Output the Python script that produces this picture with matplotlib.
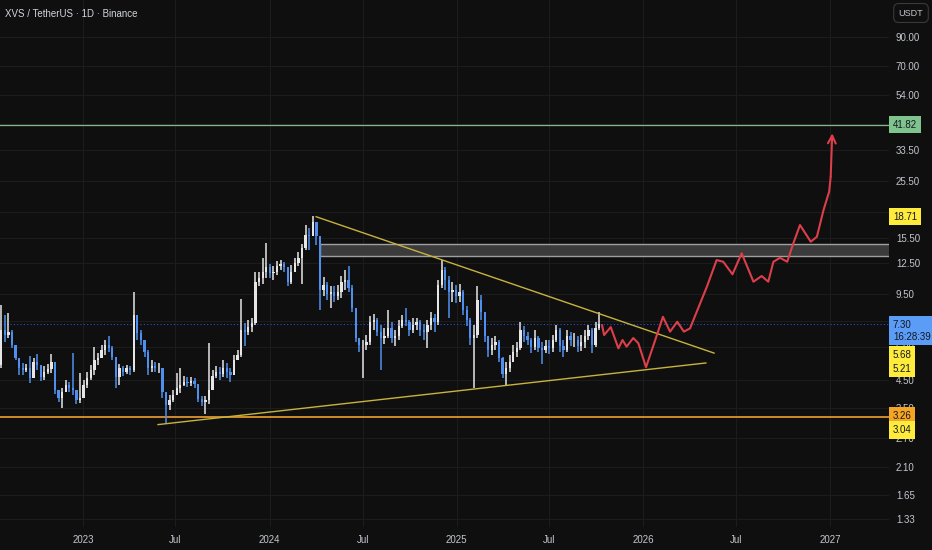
import numpy as np
import pandas as pd
import matplotlib
matplotlib.use("Agg")
import matplotlib.pyplot as plt
import matplotlib.dates as mdates
from matplotlib.patches import Rectangle
from matplotlib.ticker import NullLocator

plt.rcParams["font.family"] = ["Liberation Sans", "DejaVu Sans"]

# weekly candles (USDT), open = previous close
week_start = "2022-07-22"
first_open = 5.12
closes = [
    6.95, 6.65, 6.83, 6.10, 5.45, 4.99, 4.90, 4.99, 4.57, 5.26,
    5.12, 4.61, 4.82, 4.94, 5.26, 4.11, 3.84, 4.04, 4.30, 4.19,
    4.11, 3.77, 3.84, 4.30, 4.57, 4.90, 5.35, 5.45, 5.83, 6.10,
    5.94, 5.50, 4.61, 4.99, 4.82, 4.99, 4.90, 7.92, 6.77, 6.37,
    5.73, 4.99, 5.08, 4.99, 4.99, 4.04, 3.61, 3.77, 3.94, 4.19,
    4.30, 4.41, 4.37, 4.45, 4.33, 3.80, 3.71, 3.77, 4.11, 4.65,
    4.82, 4.73, 4.99, 4.82, 4.69, 5.35, 5.59, 6.95, 6.83, 7.13,
    7.38, 10.57, 10.96, 11.54, 12.06, 11.43, 11.54, 12.17, 12.38, 12.06,
    10.57, 11.54, 12.49, 13.04, 14.23, 15.94, 15.80, 17.87, 15.80, 9.86,
    10.30, 9.52, 9.69, 9.36, 9.69, 10.57, 10.76, 10.03, 8.43, 6.48,
    6.10, 6.10, 6.26, 7.45, 7.58, 6.83, 6.48, 6.59, 7.07, 6.48,
    6.59, 7.20, 7.58, 7.45, 6.95, 7.26, 7.45, 6.95, 6.83, 7.26,
    7.72, 7.45, 10.30, 11.74, 10.76, 9.69, 9.86, 9.36, 9.69, 8.28,
    7.58, 6.48, 6.65, 9.03, 8.13, 6.59, 5.83, 6.10, 6.26, 5.45,
    4.73, 4.99, 5.26, 5.73, 5.94, 6.95, 6.59, 6.37, 5.99, 6.48,
    5.94, 5.83, 6.04, 5.94, 6.37, 6.95, 6.04, 5.83, 6.59, 6.37,
    6.37, 6.04, 6.26, 6.59, 6.95, 6.10, 7.07, 7.30,
]
highs = [
    8.65, 7.92, 8.07, 6.95, 6.10, 5.35, 5.21, 5.17, 5.54, 5.45,
    5.64, 5.08, 5.08, 5.17, 5.64, 5.26, 4.11, 4.19, 4.49, 4.41,
    5.68, 4.11, 4.77, 4.49, 4.82, 5.12, 5.99, 5.68, 6.10, 6.37,
    6.59, 6.04, 5.12, 5.17, 5.08, 5.12, 5.08, 9.69, 7.92, 6.95,
    6.37, 5.83, 5.35, 5.26, 5.21, 4.99, 4.04, 3.94, 4.11, 4.77,
    4.99, 4.65, 4.61, 4.61, 4.57, 4.33, 3.91, 3.91, 6.21, 4.90,
    5.08, 5.03, 5.35, 5.21, 4.99, 5.59, 5.83, 9.11, 7.38, 7.58,
    7.72, 11.54, 11.54, 13.04, 14.87, 12.38, 12.17, 12.70, 12.81, 12.59,
    12.06, 12.27, 13.04, 13.74, 14.74, 17.40, 16.95, 18.83, 17.87, 15.80,
    11.04, 10.57, 10.21, 10.21, 10.30, 11.14, 11.74, 12.17, 10.30, 8.43,
    6.48, 6.37, 6.65, 7.85, 7.99, 7.72, 7.26, 7.07, 8.28, 7.45,
    6.95, 7.58, 7.92, 8.43, 7.58, 7.72, 7.72, 7.58, 7.32, 7.58,
    8.13, 7.99, 10.76, 12.81, 12.06, 11.14, 10.57, 10.30, 10.39, 9.86,
    8.58, 7.72, 7.26, 10.21, 9.44, 8.13, 6.59, 6.48, 6.59, 6.37,
    5.50, 5.26, 5.59, 6.10, 6.26, 7.45, 7.20, 6.83, 6.48, 6.95,
    6.59, 6.26, 6.37, 6.37, 6.65, 7.26, 7.07, 6.37, 6.95, 6.83,
    6.77, 6.59, 6.65, 6.95, 7.26, 7.07, 7.45, 8.13,
]
lows = [
    4.99, 6.26, 6.48, 5.94, 5.35, 4.69, 4.69, 4.82, 4.37, 4.82,
    4.90, 4.45, 4.49, 4.73, 4.77, 3.97, 3.71, 3.51, 4.08, 4.04,
    3.94, 3.64, 3.67, 3.84, 4.19, 4.49, 4.69, 5.12, 5.45, 5.59,
    5.73, 5.35, 4.19, 4.30, 4.65, 4.73, 4.69, 4.82, 6.37, 6.10,
    5.50, 4.69, 4.82, 4.82, 4.77, 3.84, 3.06, 3.45, 3.71, 3.94,
    4.00, 4.26, 4.22, 4.26, 4.19, 3.71, 3.58, 3.34, 3.64, 4.26,
    4.57, 4.49, 4.61, 4.57, 4.41, 4.90, 5.35, 5.50, 6.04, 6.65,
    6.83, 7.26, 10.21, 10.39, 10.96, 10.96, 10.76, 11.24, 11.74, 11.54,
    10.21, 10.39, 11.74, 12.17, 10.39, 13.98, 13.98, 15.80, 14.61, 8.28,
    9.36, 9.03, 8.43, 8.88, 9.03, 9.19, 9.86, 9.69, 8.13, 6.26,
    5.73, 4.57, 5.83, 6.10, 6.95, 6.59, 4.90, 6.15, 6.48, 6.21,
    6.04, 6.37, 7.07, 7.20, 6.59, 6.77, 6.95, 6.59, 6.37, 5.94,
    6.95, 6.83, 7.26, 10.03, 9.86, 7.72, 8.88, 8.80, 8.88, 7.92,
    7.20, 6.10, 4.19, 6.48, 7.58, 6.26, 5.50, 5.59, 5.83, 5.26,
    4.57, 4.26, 4.82, 5.35, 5.50, 5.83, 6.26, 6.10, 5.68, 5.83,
    5.73, 5.17, 5.68, 5.64, 5.73, 6.26, 5.73, 5.50, 5.73, 6.04,
    5.99, 5.73, 5.78, 5.94, 6.37, 5.68, 5.99, 6.95,
]

# drawn projection (red path)
proj_dates = [
    "2025-10-12", "2025-10-16", "2025-10-29", "2025-11-13", "2025-11-21",
    "2025-11-29", "2025-12-12", "2025-12-22", "2026-01-06", "2026-01-24",
    "2026-02-08", "2026-02-22", "2026-03-08", "2026-03-21", "2026-04-02",
    "2026-05-05", "2026-05-24", "2026-06-06", "2026-06-24", "2026-07-12",
    "2026-08-04", "2026-08-20", "2026-09-02", "2026-09-12", "2026-09-25",
    "2026-10-09", "2026-10-21", "2026-11-03", "2026-11-24", "2026-12-06",
    "2026-12-19", "2026-12-30", "2027-01-02", "2027-01-05",
]
proj_prices = [
    7.26, 6.65, 7.13, 5.92, 6.37, 6.01, 6.48, 6.19, 5.02, 6.37,
    7.80, 6.85, 7.47, 6.85, 7.05, 10.15, 12.81, 12.62, 11.31, 13.59,
    10.60, 11.14, 10.60, 12.62, 13.07, 12.62, 14.83, 17.40, 15.04, 15.70,
    19.84, 23.28, 26.54, 38.80,
]

# trendlines and levels
down_line = (["2024-04-01", "2026-05-19"], [18.71, 5.68])
up_line = (["2023-05-28", "2026-05-03"], [3.04, 5.21])
zone_start, zone_low, zone_high = "2024-04-08", 13.28, 14.74
target = 41.82
support = 3.26
last_price = 7.30

price_ticks = [1.33, 1.65, 2.10, 2.70, 3.50, 4.50, 6.00, 7.50, 9.50, 12.50,
               15.50, 19.50, 25.50, 33.50, 42.00, 54.00, 70.00, 90.00]
hidden_ticks = [7.50, 42.00]  # covered by the price tags
date_ticks = ["2023-01-01", "2023-07-01", "2024-01-01", "2024-07-01", "2025-01-01",
              "2025-07-01", "2026-01-01", "2026-07-01", "2027-01-01"]
date_labels = ["2023", "Jul", "2024", "Jul", "2025", "Jul", "2026", "Jul", "2027"]

bg = "#0f0f0f"
grid_c = "#1d1d1d"
txt_c = "#c3c6ce"
up_c = "#e6e6e6"
down_c = "#4f8ff0"
yellow = "#c9b33d"
red = "#dc3f4a"


def dn(s):
    return mdates.date2num(pd.to_datetime(s))


fig = plt.figure(figsize=(9.32, 5.5), dpi=100, facecolor=bg)
ax = fig.add_axes([0, 23 / 550, 889 / 932, 527 / 550], facecolor=bg)
ax.set_yscale("log")
ax.set_ylim(1.242, 124.4)
ax.set_xlim(dn("2022-07-23"), dn("2027-04-26"))

# candles
c = np.array(closes)
o = np.concatenate([[first_open], c[:-1]])
h = np.maximum(np.array(highs), np.maximum(o, c))
l = np.minimum(np.array(lows), np.minimum(o, c))
x = mdates.date2num(pd.date_range(week_start, periods=len(c), freq="7D")) + 3.5
up = c >= o
cols = np.where(up, up_c, down_c)
ax.vlines(x, l, h, colors=cols, lw=1.1, zorder=3)
ax.bar(x, np.abs(c - o) + 0.01, bottom=np.minimum(o, c), width=4.5,
       color=cols, lw=0, zorder=3)

# levels
ax.axhline(target, color="#86b98a", lw=0.9, zorder=2)
ax.axhline(support, color="#f0a030", lw=1.2, zorder=2)
ax.axhline(last_price, color="#2962ff", lw=0.8, ls=(0, (1, 2)), alpha=0.8, zorder=2)
ax.add_patch(Rectangle((dn(zone_start), zone_low), 2000, zone_high - zone_low,
                       facecolor="#3b3b3b", edgecolor="#a0a0a0", lw=1.0, zorder=2))

# trendlines
ax.plot([dn(d) for d in down_line[0]], down_line[1], color=yellow, lw=1.0, zorder=4)
ax.plot([dn(d) for d in up_line[0]], up_line[1], color=yellow, lw=1.0, zorder=4)

# projection
px = [dn(d) for d in proj_dates]
ax.plot(px[:-1], proj_prices[:-1], color=red, lw=1.5, zorder=5,
        solid_joinstyle="round", solid_capstyle="round")
ax.annotate("", xy=(px[-1], proj_prices[-1]), xytext=(px[-2], proj_prices[-2]),
            arrowprops=dict(arrowstyle="->", color=red, lw=1.5, mutation_scale=14,
                            shrinkA=0, shrinkB=0), zorder=5)

# axes styling
for s in ax.spines.values():
    s.set_visible(False)
ax.yaxis.tick_right()
ax.set_yticks(price_ticks)
ax.set_yticklabels(["" if t in hidden_ticks else f"{t:.2f}" for t in price_ticks])
ax.yaxis.set_minor_locator(NullLocator())
ax.set_xticks([dn(d) for d in date_ticks])
ax.set_xticklabels(date_labels)
ax.tick_params(axis="y", length=0, pad=5, labelcolor=txt_c, labelsize=7)
ax.tick_params(axis="x", length=0, pad=6, labelcolor=txt_c, labelsize=7)
ax.grid(True, color=grid_c, lw=0.7, zorder=0)


def price_tag(val, label, fc, dy=0):
    ax.annotate(label, xy=(1.0, val), xycoords=("axes fraction", "data"),
                xytext=(2.8, dy), textcoords="offset points", ha="left", va="center",
                fontsize=7, color="#131722", linespacing=1.25,
                bbox=dict(boxstyle="square,pad=0.38", fc=fc, ec="none"),
                annotation_clip=False, zorder=10)


price_tag(target, "41.82", "#7fc48c")
price_tag(18.71, "18.71", "#ffeb3b")
price_tag(last_price, "7.30\n16:28:39", "#5b9cf6", dy=-4.5)
price_tag(5.68, "5.68", "#ffeb3b", dy=-1.5)
price_tag(5.21, "5.21", "#ffeb3b", dy=-4)
price_tag(support, "3.26", "#f5a524", dy=0.5)
price_tag(3.04, "3.04", "#ffeb3b", dy=-4)

fig.text(5 / 932, 1 - 14 / 550, "XVS / TetherUS · 1D · Binance", color="#d1d4dc",
         fontsize=7.0, va="center", ha="left")
fig.text(911 / 932, 1 - 13 / 550, "USDT", color=txt_c, fontsize=6.5, va="center", ha="center",
         bbox=dict(boxstyle="round,pad=0.55", fc=bg, ec="#3a3a3a", lw=0.8))

fig.savefig("out.png", dpi=100, facecolor=bg)
